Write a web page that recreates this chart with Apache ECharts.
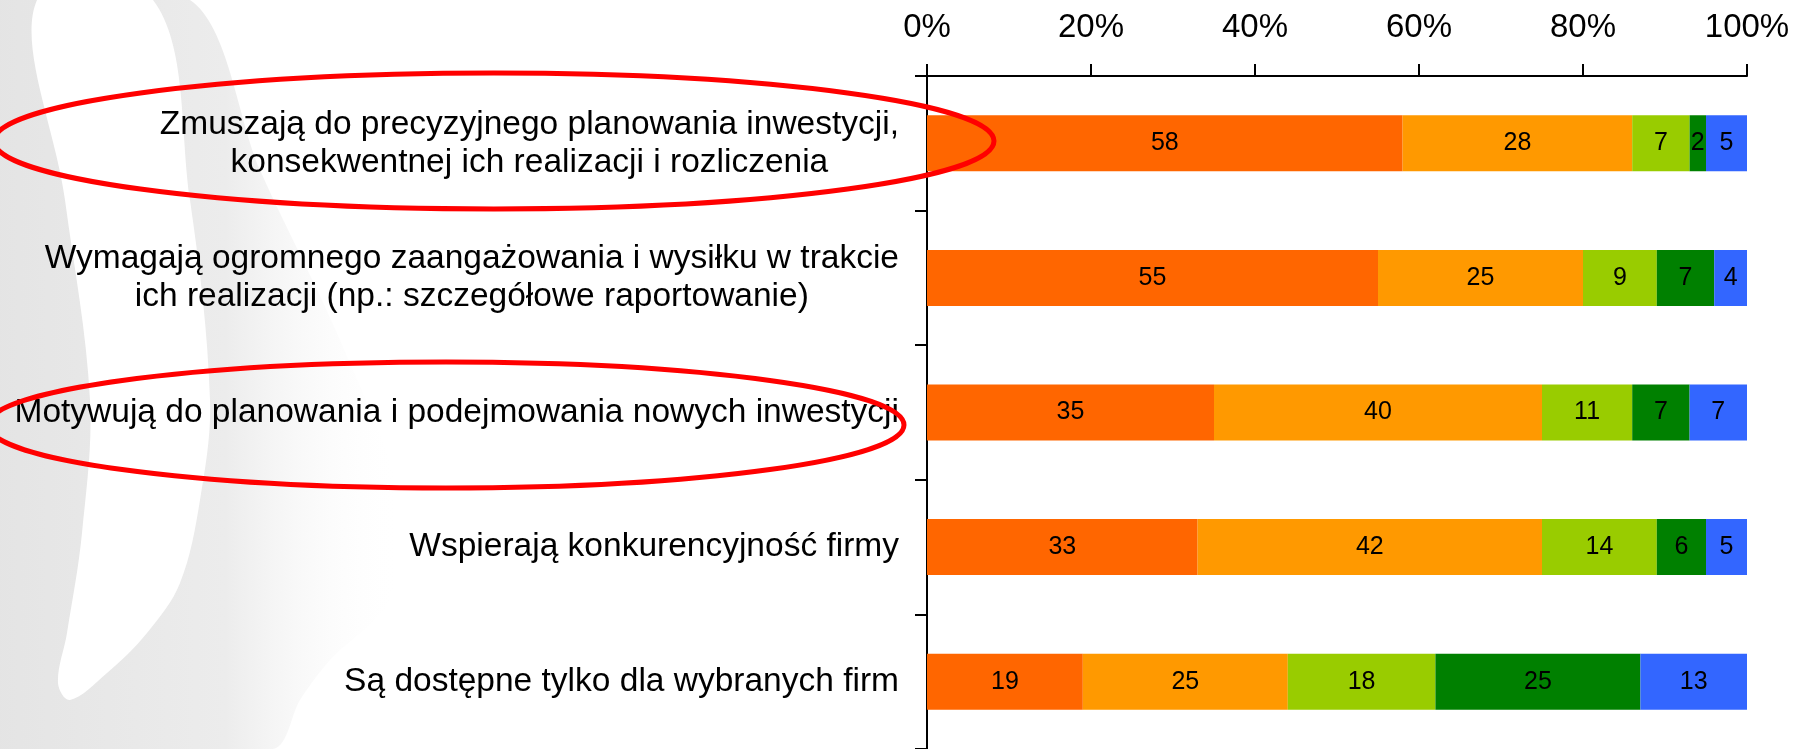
<!DOCTYPE html>
<html>
<head>
<meta charset="utf-8">
<script src="https://cdn.jsdelivr.net/npm/echarts@6/dist/echarts.min.js"></script>
<style>
  html, body { margin: 0; padding: 0; background: #fff; }
  #chart { width: 1806px; height: 749px; }
</style>
</head>
<body>
<div id="chart"></div>
<script>
const categories = [
  "Zmuszają do precyzyjnego planowania inwestycji,\nkonsekwentnej ich realizacji i rozliczenia",
  "Wymagają ogromnego zaangażowania i wysiłku w trakcie\nich realizacji (np.: szczegółowe raportowanie)",
  "Motywują do planowania i podejmowania nowych inwestycji",
  "Wspierają konkurencyjność firmy",
  "Są dostępne tylko dla wybranych firm",
];
const answer1 = [58, 55, 35, 33, 19];
const answer2 = [28, 25, 40, 42, 25];
const answer3 = [7, 9, 11, 14, 18];
const answer4 = [2, 7, 7, 6, 25];
const answer5 = [5, 4, 7, 5, 13];
const tickValues = [0, 20, 40, 60, 80, 100];

const FONT = '"Liberation Sans", Arial, sans-serif';
const colors = ["#FF6600", "#FF9900", "#99CC00", "#008000", "#3366FF"];
const seriesData = [answer1, answer2, answer3, answer4, answer5];

const chart = echarts.init(document.getElementById("chart"), null, { renderer: "canvas" });

// decorative grey swoosh on the left + red highlight ellipses
const graphics = [
  {
    type: "polygon",
    silent: true,
    z: -10,
    shape: {
      smooth: 0.3,
      points: [[0, 0], [190, 0], [260, 170], [340, 340], [400, 500], [390, 600],
               [330, 660], [300, 700], [273, 749], [0, 749]],
    },
    style: {
      fill: new echarts.graphic.LinearGradient(0, 0, 1, 0, [
        { offset: 0, color: "#e3e3e3" },
        { offset: 0.6, color: "#ececec" },
        { offset: 1, color: "rgba(255,255,255,0)" },
      ]),
    },
  },
  {
    type: "polygon",
    silent: true,
    z: -9,
    shape: {
      smooth: 0.35,
      points: [[37, 0], [65, 200], [90, 400], [82, 533], [67, 633], [58, 683],
               [70, 700], [107, 673], [147, 633], [180, 583], [200, 500], [210, 400],
               [190, 200], [153, 0]],
    },
    style: { fill: "#ffffff" },
  },
  {
    type: "ellipse",
    silent: true,
    z: 100,
    shape: { cx: 494, cy: 141, rx: 500, ry: 68 },
    style: { fill: "none", stroke: "#FF0000", lineWidth: 5 },
  },
  {
    type: "ellipse",
    silent: true,
    z: 100,
    shape: { cx: 446, cy: 425, rx: 458, ry: 63 },
    style: { fill: "none", stroke: "#FF0000", lineWidth: 5 },
  },
];

const option = {
  backgroundColor: "#fff",
  animation: false,
  textStyle: { fontFamily: FONT },
  graphic: graphics,
  grid: { left: 927, right: 59, top: 76, bottom: 0, containLabel: false },
  xAxis: {
    type: "value",
    position: "top",
    min: tickValues[0],
    max: tickValues[tickValues.length - 1],
    interval: 20,
    axisLine: { show: true, lineStyle: { color: "#000", width: 2 } },
    axisTick: { show: true, length: 12, lineStyle: { color: "#000", width: 2 } },
    splitLine: { show: false },
    axisLabel: {
      formatter: "{value}%",
      fontSize: 33,
      color: "#000",
      margin: 32,
      fontFamily: FONT,
    },
  },
  yAxis: {
    type: "category",
    inverse: true,
    data: categories,
    axisLine: { show: true, lineStyle: { color: "#000", width: 2 } },
    axisTick: { show: true, length: 12, lineStyle: { color: "#000", width: 2 } },
    axisLabel: {
      color: "#000",
      fontSize: 33.5,
      margin: 28,
      fontFamily: FONT,
      formatter: (v) => v.split("\n").map((l) => "{c|" + l + "}").join("\n"),
      rich: {
        c: { align: "center", fontSize: 33.5, lineHeight: 38, color: "#000", fontFamily: FONT },
      },
    },
  },
  series: seriesData.map((d, i) => ({
    name: "Odpowiedź " + (i + 1),
    type: "bar",
    stack: "total",
    barWidth: 56,
    data: d,
    itemStyle: { color: colors[i] },
    label: {
      show: true,
      position: "inside",
      color: "#000",
      fontSize: 25,
      fontFamily: FONT,
      formatter: "{c}",
    },
  })),
};

chart.setOption(option);
</script>
</body>
</html>
